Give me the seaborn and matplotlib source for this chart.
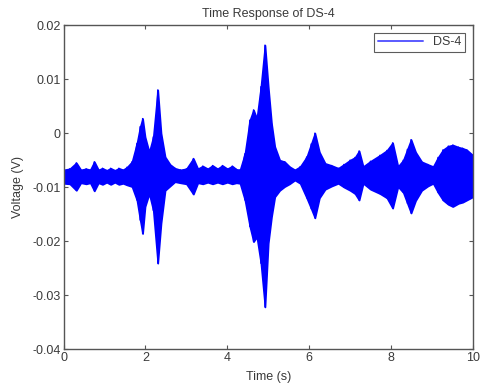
import numpy as np
import pandas as pd
import matplotlib
matplotlib.use("Agg")
import matplotlib.pyplot as plt
import seaborn as sns

# Envelope of the DS-4 signal (time in s, voltage in V)
time_s = [0.00, 0.15, 0.31, 0.42, 0.55, 0.65, 0.75, 0.85, 0.95, 1.05, 1.15, 1.25,
          1.35, 1.45, 1.55, 1.67, 1.79, 1.87, 1.93, 1.99, 2.09, 2.19, 2.30, 2.38,
          2.48, 2.60, 2.72, 2.85, 3.00, 3.17, 3.28, 3.40, 3.52, 3.64, 3.76, 3.88,
          4.00, 4.12, 4.22, 4.31, 4.43, 4.55, 4.64, 4.72, 4.82, 4.92, 5.00, 5.08,
          5.16, 5.28, 5.40, 5.52, 5.65, 5.78, 5.94, 6.05, 6.14, 6.25, 6.39, 6.55,
          6.71, 6.85, 7.00, 7.12, 7.22, 7.32, 7.50, 7.73, 7.90, 8.04, 8.17, 8.30,
          8.40, 8.49, 8.60, 8.75, 8.90, 9.03, 9.15, 9.27, 9.40, 9.51, 9.65, 9.75,
          9.85, 10.00]
upper_v = [-0.0068, -0.0066, -0.0055, -0.0068, -0.0066, -0.0068, -0.0053, -0.0068,
           -0.0065, -0.0069, -0.0065, -0.0069, -0.0065, -0.0068, -0.0063, -0.0053,
           -0.0019, 0.0012, 0.0027, -0.0007, -0.0035, -0.0007, 0.0080, 0.0000,
           -0.0044, -0.0058, -0.0065, -0.0068, -0.0066, -0.0047, -0.0066, -0.0061,
           -0.0066, -0.0060, -0.0066, -0.0060, -0.0066, -0.0061, -0.0067, -0.0068,
           -0.0038, 0.0024, 0.0043, 0.0027, 0.0086, 0.0163, 0.0086, 0.0018,
           -0.0025, -0.0050, -0.0053, -0.0062, -0.0068, -0.0062, -0.0044, -0.0020,
           0.0000, -0.0035, -0.0056, -0.0060, -0.0065, -0.0058, -0.0050, -0.0045,
           -0.0033, -0.0062, -0.0052, -0.0041, -0.0032, -0.0018, -0.0062, -0.0050,
           -0.0030, -0.0012, -0.0035, -0.0053, -0.0058, -0.0062, -0.0045, -0.0031,
           -0.0024, -0.0022, -0.0026, -0.0028, -0.0031, -0.0041]
lower_v = [-0.0093, -0.0094, -0.0106, -0.0092, -0.0094, -0.0092, -0.0107, -0.0092,
           -0.0095, -0.0091, -0.0095, -0.0091, -0.0095, -0.0093, -0.0096, -0.0099,
           -0.0124, -0.0161, -0.0186, -0.0136, -0.0112, -0.0143, -0.0241, -0.0167,
           -0.0106, -0.0098, -0.0090, -0.0092, -0.0094, -0.0113, -0.0092, -0.0094,
           -0.0091, -0.0094, -0.0091, -0.0094, -0.0091, -0.0094, -0.0092, -0.0093,
           -0.0124, -0.0173, -0.0201, -0.0192, -0.0241, -0.0322, -0.0204, -0.0155,
           -0.0118, -0.0106, -0.0099, -0.0094, -0.0087, -0.0093, -0.0120, -0.0140,
           -0.0157, -0.0120, -0.0104, -0.0098, -0.0093, -0.0100, -0.0106, -0.0112,
           -0.0124, -0.0093, -0.0104, -0.0112, -0.0120, -0.0139, -0.0099, -0.0110,
           -0.0130, -0.0148, -0.0125, -0.0106, -0.0098, -0.0093, -0.0110, -0.0124,
           -0.0132, -0.0136, -0.0130, -0.0128, -0.0124, -0.0118]

x_ticks = [0, 2, 4, 6, 8, 10]
y_ticks = [-0.04, -0.03, -0.02, -0.01, 0, 0.01, 0.02]
y_tick_labels = ["-0.04", "-0.03", "-0.02", "-0.01", "0", "0.01", "0.02"]

sns.set_style("ticks")
plt.rcParams["font.family"] = ["Liberation Sans", "DejaVu Sans"]
plt.rcParams["font.size"] = 9

text_color = "#3a3a3a"
axis_color = "#555555"

# Signal traced through its peaks and troughs (alternating)
df = pd.DataFrame({
    "Time (s)": np.repeat(time_s, 2),
    "Voltage (V)": np.column_stack([upper_v, lower_v]).ravel(),
})

fig = plt.figure(figsize=(4.82, 3.87), dpi=100)
ax = fig.add_axes([0.132, 0.098, 0.849, 0.837])

ax.fill_between(time_s, lower_v, upper_v, color="#0000ff", linewidth=1.2,
                edgecolor="#0000ff")
sns.lineplot(data=df, x="Time (s)", y="Voltage (V)", estimator=None, sort=False,
             color="#0000ff", linewidth=1.0, label="DS-4", ax=ax)

ax.set_xlim(0, 10)
ax.set_ylim(-0.04, 0.02)
ax.set_xticks(x_ticks)
ax.set_xticklabels([str(v) for v in x_ticks])
ax.set_yticks(y_ticks)
ax.set_yticklabels(y_tick_labels)

ax.set_title("Time Response of DS-4", fontsize=9, color=text_color, pad=6)
ax.set_xlabel("Time (s)", fontsize=9, color=text_color, labelpad=5)
ax.set_ylabel("Voltage (V)", fontsize=9, color=text_color, labelpad=6)

ax.tick_params(direction="in", length=3, width=0.8, colors=axis_color,
               labelcolor=text_color, labelsize=9, top=True, right=True, pad=2)
for s in ax.spines.values():
    s.set_visible(True)
    s.set_color(axis_color)
    s.set_linewidth(1.0)

leg = ax.legend(loc="upper right", frameon=True, fancybox=False, fontsize=9,
                handlelength=3.6, borderpad=0.3, borderaxespad=0.6)
leg.get_frame().set_edgecolor("#333333")
leg.get_frame().set_linewidth(0.8)
for txt in leg.get_texts():
    txt.set_color(text_color)
for h in leg.get_lines():
    h.set_color("#5a5aff")
    h.set_linewidth(1.4)

fig.savefig("out.png", dpi=100)
